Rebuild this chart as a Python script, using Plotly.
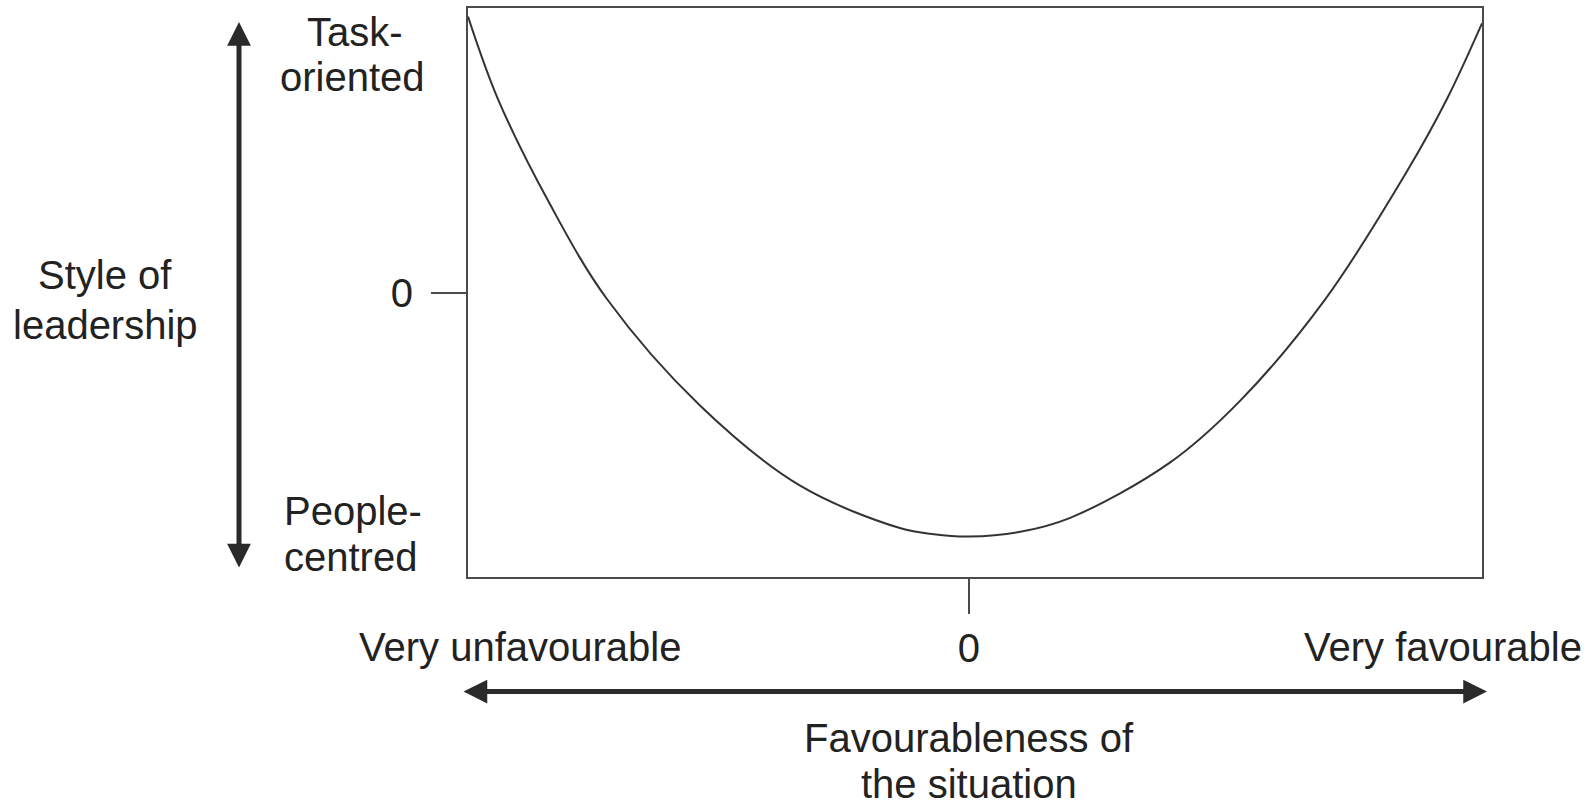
import plotly.graph_objects as go

# Curve (x: favourableness, y: style of leadership)
favourableness = [-1.0, -0.94, -0.836, -0.723, -0.537, -0.337, -0.138, -0.07, 0.0, 0.1, 0.202, 0.401, 0.541, 0.711, 0.874, 0.954, 1.024]
leadership_style = [0.97, 0.679, 0.309, -0.022, -0.397, -0.679, -0.828, -0.850, -0.858, -0.842, -0.792, -0.598, -0.381, -0.024, 0.425, 0.680, 0.946]

x_tick_vals = [0]
x_tick_text = ["0"]
y_tick_vals = [0]
y_tick_text = ["0"]

FONT = "Liberation Sans, Arial, sans-serif"
TXT = "#222222"
FS = 40

W, H = 1588, 808
L, R, T, B = 468, 1482, 6, 577


def PX(px):
    return (px - L) / (R - L)


def PY(py):
    return (B - py) / (B - T)


fig = go.Figure()
fig.add_trace(go.Scatter(
    x=favourableness, y=leadership_style, mode="lines",
    line=dict(color="#333333", width=2, shape="spline", smoothing=1.0),
    hoverinfo="skip", showlegend=False,
))

fig.update_layout(
    width=W, height=H,
    margin=dict(l=L, r=W - R, t=T, b=H - B, pad=0),
    paper_bgcolor="white", plot_bgcolor="white",
    showlegend=False,
    font=dict(family=FONT, color=TXT, size=FS),
    xaxis=dict(range=[-1.0, 1.024], showgrid=False, zeroline=False,
               showline=True, mirror=True, linecolor="#4a4a4a", linewidth=2,
               ticks="outside", ticklen=35, tickwidth=2, tickcolor="#4a4a4a",
               tickvals=x_tick_vals, ticktext=x_tick_text,
               tickfont=dict(family=FONT, size=FS, color=TXT),
               ticklabelstandoff=0, fixedrange=True),
    yaxis=dict(range=[-1.0, 1.0], showgrid=False, zeroline=False,
               showline=True, mirror=True, linecolor="#4a4a4a", linewidth=2,
               ticks="outside", ticklen=35, tickwidth=2, tickcolor="#4a4a4a",
               tickvals=y_tick_vals, ticktext=y_tick_text,
               tickfont=dict(family=FONT, size=FS, color=TXT),
               ticklabelstandoff=10, fixedrange=True),
)

labels = [
    ("Task-", 355, 30),
    ("oriented", 352, 75),
    ("People-", 353, 511),
    ("centred", 350, 557),
    ("Style of", 105, 274),
    ("leadership", 105, 324),
    ("Very unfavourable", 520, 647),
    ("Very favourable", 1443, 647),
    ("Favourableness of", 969, 739),
    ("the situation", 969, 785),
]
for text, px, py in labels:
    fig.add_annotation(text=text, x=PX(px), y=PY(py), xref="paper", yref="paper",
                       xanchor="center", yanchor="middle", showarrow=False,
                       font=dict(family=FONT, size=FS, color=TXT))

# Double-headed arrows
fig.add_annotation(text="", x=PX(239), y=PY(20), xref="paper", yref="paper",
                   ax=0, ay=547, axref="pixel", ayref="pixel",
                   showarrow=True, arrowhead=2, arrowside="end+start",
                   arrowsize=0.95, arrowwidth=5, arrowcolor="#2a2a2a", standoff=0, startstandoff=0)
fig.add_annotation(text="", x=PX(1487), y=PY(692), xref="paper", yref="paper",
                   ax=-1025, ay=0, axref="pixel", ayref="pixel",
                   showarrow=True, arrowhead=2, arrowside="end+start",
                   arrowsize=0.95, arrowwidth=5, arrowcolor="#2a2a2a", standoff=0, startstandoff=0)

fig.write_html("out.html", config={"displayModeBar": False},
               post_script="document.body.style.margin='0';")
